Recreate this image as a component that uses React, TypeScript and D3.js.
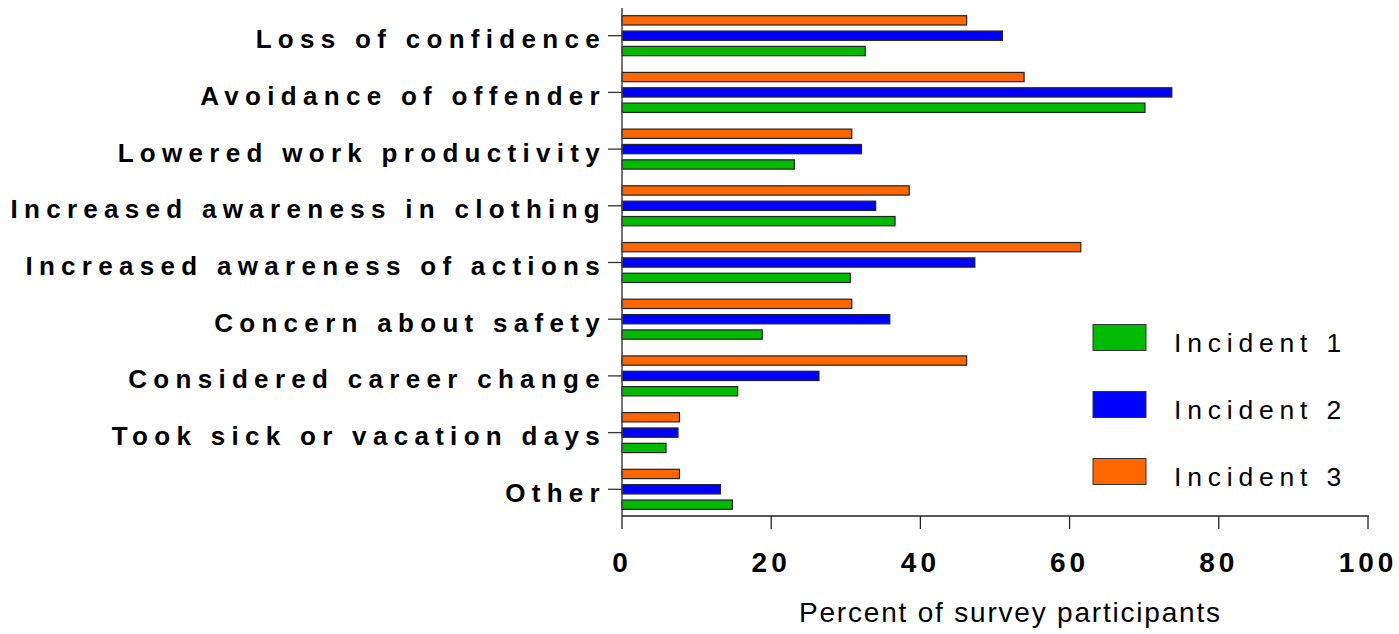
import React from "react";
import * as d3 from "d3";

const categories = [
  "Loss of confidence",
  "Avoidance of offender",
  "Lowered work productivity",
  "Increased awareness in clothing",
  "Increased awareness of actions",
  "Concern about safety",
  "Considered career change",
  "Took sick or vacation days",
  "Other",
];
const incident1 = [32.6, 70.1, 23.1, 36.6, 30.6, 18.8, 15.5, 5.9, 14.8];
const incident2 = [51.0, 73.7, 32.1, 34.0, 47.3, 35.9, 26.4, 7.5, 13.2];
const incident3 = [46.2, 53.9, 30.8, 38.5, 61.5, 30.8, 46.2, 7.7, 7.7];
const seriesNames = ["Incident 1", "Incident 2", "Incident 3"];
const xTicks = [0, 20, 40, 60, 80, 100];
const xTitle = "Percent of survey participants";

const colors: Record<string, string> = {
  "Incident 1": "#00BB00",
  "Incident 2": "#0000FF",
  "Incident 3": "#FF6600",
};

const FONT = "'Liberation Sans', Arial, Helvetica, sans-serif";

export default function App() {
  const W = 1399;
  const H = 634;
  const x = d3.scaleLinear().domain([0, 100]).range([622, 1368]);
  const y = d3
    .scaleBand<string>()
    .domain(categories)
    .range([7.35, 517.65])
    .paddingInner(0.277)
    .paddingOuter(0.1385);
  const inner = d3
    .scaleBand<string>()
    .domain(["Incident 3", "Incident 2", "Incident 1"])
    .range([0, y.bandwidth()])
    .paddingInner(0.33);

  const valuesBySeries: Record<string, number[]> = {
    "Incident 1": incident1,
    "Incident 2": incident2,
    "Incident 3": incident3,
  };

  const axisY = 516;
  const legendX = 1093;
  const legendY = d3.scalePoint<string>().domain(seriesNames).range([324, 458]);

  return (
    <svg
      width={W}
      height={H}
      style={{ position: "absolute", left: 0, top: 0, background: "#fff" }}
    >
      {categories.map((c, i) => (
        <g key={c} transform={`translate(0,${y(c)})`}>
          {["Incident 3", "Incident 2", "Incident 1"].map((s) => (
            <rect
              key={s}
              x={x(0)}
              y={(inner(s) as number) + 0.5}
              width={x(valuesBySeries[s][i]) - x(0)}
              height={inner.bandwidth() - 1}
              fill={colors[s]}
              stroke="#222"
              strokeWidth={1.2}
            />
          ))}
        </g>
      ))}

      <line x1={622} x2={622} y1={8} y2={axisY} stroke="#444" strokeWidth={1.5} />
      {categories.map((c) => {
        const cy = (y(c) as number) + y.bandwidth() / 2;
        return (
          <g key={c}>
            <line x1={608} x2={622} y1={cy} y2={cy} stroke="#333" strokeWidth={1.3} />
            <text
              x={606}
              y={cy + 12.5}
              textAnchor="end"
              fontFamily={FONT}
              fontWeight="bold"
              fontSize={26}
              letterSpacing={6.3}
              fill="#000"
            >
              {c}
            </text>
          </g>
        );
      })}

      <line x1={622} x2={1369} y1={axisY} y2={axisY} stroke="#222" strokeWidth={1.3} />
      {xTicks.map((t) => (
        <g key={t}>
          <line x1={x(t)} x2={x(t)} y1={axisY} y2={529} stroke="#222" strokeWidth={1.3} />
          <text
            x={x(t)}
            y={572}
            textAnchor="middle"
            fontFamily={FONT}
            fontWeight="bold"
            fontSize={28}
            letterSpacing={4}
            fill="#000"
          >
            {t}
          </text>
        </g>
      ))}
      <text x={799} y={622} fontFamily={FONT} fontSize={28} letterSpacing={1.8} fill="#000">
        {xTitle}
      </text>

      {seriesNames.map((s) => {
        const ly = legendY(s) as number;
        return (
          <g key={s}>
            <rect
              x={legendX}
              y={ly + 0.5}
              width={53}
              height={26}
              fill={colors[s]}
              stroke="#333"
              strokeWidth={1}
            />
            <text x={1174} y={ly + 28} fontFamily={FONT} fontSize={26.5} letterSpacing={5.8} fill="#000">
              {s}
            </text>
          </g>
        );
      })}
    </svg>
  );
}
